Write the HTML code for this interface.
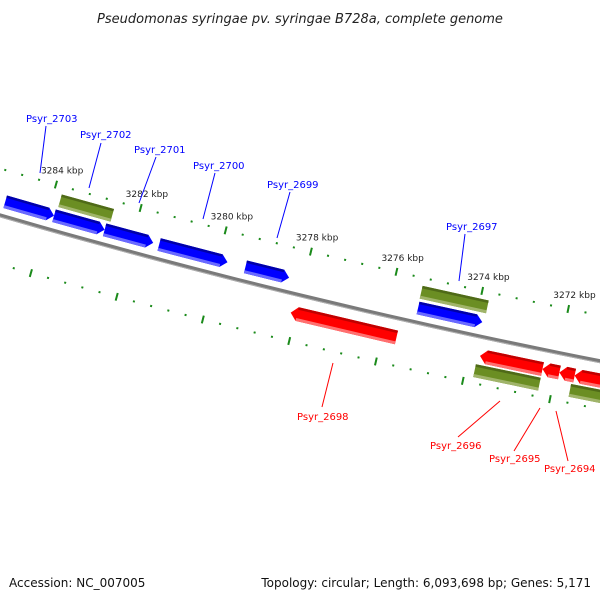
<!DOCTYPE html>
<html><head><meta charset="utf-8"><style>
body{margin:0;background:#fff}
svg{display:block;font-family:"DejaVu Sans","Liberation Sans",sans-serif}
</style></head><body>
<svg id="map" width="600" height="600" viewBox="0 0 600 600" xmlns="http://www.w3.org/2000/svg">
<rect width="600" height="600" fill="#fff"/>
<text x="300" y="23" text-anchor="middle" font-size="13" font-style="italic" fill="#222">Pseudomonas syringae pv. syringae B728a, complete genome</text>
<g id="ticks"></g>
<g id="backbone"></g>
<g id="genes"></g>
<g id="labels"></g>
<text x="9" y="587" font-size="12" fill="#111">Accession: NC_007005</text>
<text x="591" y="587" text-anchor="end" font-size="12" fill="#111">Topology: circular; Length: 6,093,698 bp; Genes: 5,171</text>
</svg>
<script>
const majorTicks=[3272,3274,3276,3278,3280,3282,3284];
const plusStarts=[3285.0,3283.85,3282.66,3281.38,3279.36,3275.34];
const plusEnds=[3283.85,3282.66,3281.52,3279.78,3278.34,3273.85];
const upperOliveStarts=[3283.81,3275.35];
const upperOliveEnds=[3282.58,3273.81];
const minusStarts=[3278.12,3273.74,3272.30,3271.91,3271.56];
const minusEnds=[3275.67,3272.30,3271.91,3271.56,3270.3];
const lowerOliveStarts=[3273.79,3271.6];
const lowerOliveEnds=[3272.30,3270.3];
const labelNames=["Psyr_2703","Psyr_2702","Psyr_2701","Psyr_2700","Psyr_2699","Psyr_2697","Psyr_2698","Psyr_2696","Psyr_2695","Psyr_2694"];

const NS="http://www.w3.org/2000/svg";
const CX=1952,CY=-6507,R=7000;
function P(k,d){const a=(102.2+(k-3274)*0.362)*Math.PI/180;const r=R+d;return [CX+r*Math.cos(a),CY+r*Math.sin(a)];}
function mk(t,attrs,parent){const e=document.createElementNS(NS,t);for(const k in attrs)e.setAttribute(k,attrs[k]);parent.appendChild(e);return e;}
function pts(a){return a.map(p=>p[0].toFixed(1)+","+p[1].toFixed(1)).join(" ");}

// ticks
const tg=document.getElementById('ticks');
[-45,47].forEach(d=>{
  for(let i=0;i<=40;i++){
    const k=3270+i*0.4;
    const major=i%5===0;
    const a=P(k,d-(major?4:1)),b=P(k,d+(major?4:1));
    const l=mk('line',{x1:a[0],y1:a[1],x2:b[0],y2:b[1],stroke:'#1a8a1a','stroke-width':major?2:2},tg);
    
    
  }
});
majorTicks.forEach(k=>{
  const p=P(k,-45);
  const t=mk('text',{x:p[0]-15,y:p[1]-11,'font-size':'9',fill:'#222'},tg);
  t.textContent=k+" kbp";
  
  
});

// backbone
const bg=document.getElementById('backbone');
const bb=[];for(let k=3270;k<=3286.5;k+=0.5)bb.push(P(k,0));
const bl=mk('polyline',{points:pts(bb),fill:'none',stroke:'#7a7a7a','stroke-width':4},bg);


const bl2=mk('polyline',{points:pts(bb.map((p,i)=>P(3270+i*0.5,1.5))),fill:'none',stroke:'#b0b0b0','stroke-width':1},bg);



const gg=document.getElementById('genes');
function gene(s,e,d0,d1,dir,main,dark,light,name){
  const g=mk('g',{},gg);
  
  
  const h=0.15, mid=(d0+d1)/2;
  let poly;
  if(dir===0){poly=[P(s,d0),P(e,d0),P(e,d1),P(s,d1)];}
  else if(dir>0){ // toward lower kbp (right)
    poly=[P(s,d0),P(e+h,d0),P(e,mid),P(e+h,d1),P(s,d1)];
  } else { // toward higher kbp (left)
    poly=[P(e,d0),P(s-h,d0),P(s,mid),P(s-h,d1),P(e,d1)];
  }
  mk('polygon',{points:pts(poly),fill:main},g);
  const hs=dir===0?0:h;
  const a1=dir>0?s:s-hs, a2=dir>0?e+hs:e;
  mk('polygon',{points:pts([P(a1,d0),P(a2,d0),P(a2,d0+2.5),P(a1,d0+2.5)]),fill:dark},g);
  mk('polygon',{points:pts([P(a1,d1-3),P(a2,d1-3),P(a2,d1),P(a1,d1)]),fill:light},g);
}
plusStarts.forEach((s,i)=>gene(s,plusEnds[i],-21,-8,1,'#0000ff','#0000a8','#6a6aff','plus-gene'));
upperOliveStarts.forEach((s,i)=>gene(s,upperOliveEnds[i],-37,-24,0,'#6b8e23','#4f6a18','#a0b46a','upper-olive-feature'));
minusStarts.forEach((s,i)=>gene(s,minusEnds[i],12,26,-1,'#ff0000','#c00000','#ff7070','minus-gene'));
lowerOliveStarts.forEach((s,i)=>gene(s,lowerOliveEnds[i],28,41,0,'#6b8e23','#4f6a18','#a0b46a','lower-olive-feature'));

// labels
const lg=document.getElementById('labels');
const lab=[[26,122,46,126,40,173],[80,138,101,143,89,188],[134,153,156,157,139,203],[193,169,215,173,203,219],[267,188,290,192,277,238],[446,230,465,234,459,281],
[297,420,333,363,322,407],[430,449,500,401,458,437],[489,462,540,408,514,451],[544,472,556,411,568,461]];
lab.forEach((L,i)=>{
  const col=i<6?'#0000ff':'#ff0000';
  const ln=mk('line',{x1:L[2],y1:L[3],x2:L[4],y2:L[5],stroke:col,'stroke-width':1},lg);
  
  
  const t=mk('text',{x:L[0],y:L[1],'font-size':'10',fill:col},lg);
  t.textContent=labelNames[i];
  
  
});
</script>
</body></html>
